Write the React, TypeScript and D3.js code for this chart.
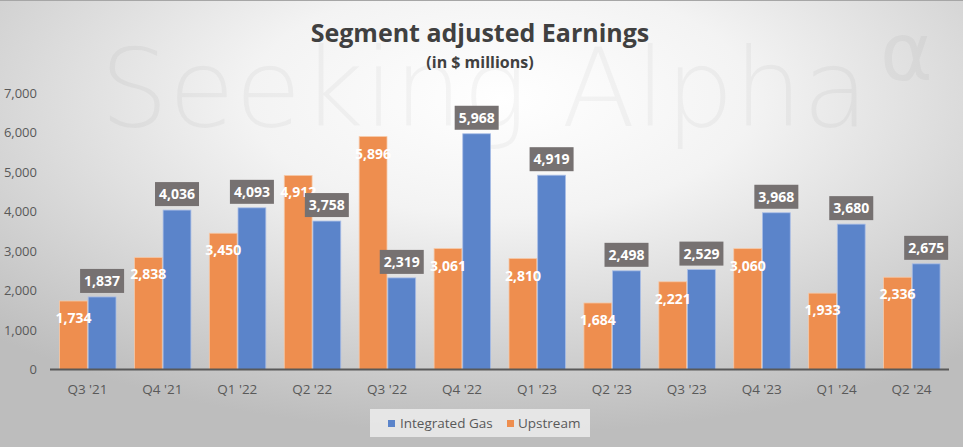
import React from "react";
import * as d3 from "d3";

const categories = ["Q3 '21", "Q4 '21", "Q1 '22", "Q2 '22", "Q3 '22", "Q4 '22", "Q1 '23", "Q2 '23", "Q3 '23", "Q4 '23", "Q1 '24", "Q2 '24"];
const upstream = [1734, 2838, 3450, 4912, 5896, 3061, 2810, 1684, 2221, 3060, 1933, 2336];
const integratedGas = [1837, 4036, 4093, 3758, 2319, 5968, 4919, 2498, 2529, 3968, 3680, 2675];
const yTicks = [0, 1000, 2000, 3000, 4000, 5000, 6000, 7000];
const seriesNames = ["Upstream", "Integrated Gas"];

const W = 963;
const H = 447;
const BLUE = "#5B84CA";
const ORANGE = "#EE8E4F";
const BOX = "#767171";
const TXT = "#595959";
const FONT = "'Open Sans', 'Noto Sans', sans-serif";

export default function App() {
  const x = d3.scaleBand<string>().domain(categories).range([50, 949]).paddingInner(0).paddingOuter(0);
  const inner = d3.scaleBand<string>().domain(seriesNames).range([9.5, 66]).paddingInner(0.03);
  const y = d3.scaleLinear().domain([0, 7000]).range([369.5, 93]);
  const fmt = d3.format(",");

  return (
    <svg width={W} height={H} style={{ position: "absolute", left: 0, top: 0 }} fontFamily={FONT}>
      <defs>
        <radialGradient id="bg" cx="52%" cy="22%" r="75%" fx="52%" fy="22%">
          <stop offset="0%" stopColor="#ffffff" />
          <stop offset="35%" stopColor="#f3f3f3" />
          <stop offset="100%" stopColor="#bdbdbd" />
        </radialGradient>
      </defs>
      <rect x={0} y={0} width={W} height={H} fill="url(#bg)" />
      <line x1={0} x2={W} y1={0.5} y2={0.5} stroke="#a6a6a6" strokeWidth={1} />

      {/* watermark */}
      <text x={100} y={126} fontSize={108} fontFamily="'DejaVu Sans', sans-serif" fontWeight={200} fill="#000" fillOpacity={0.035}>
        Seeking Alpha
      </text>
      <text x={880} y={80} fontSize={80} fontFamily="'DejaVu Sans', sans-serif" fill="#000" fillOpacity={0.035}>
        α
      </text>

      {/* title */}
      <text x={480} y={42} textAnchor="middle" fontSize={25} fontWeight={700} fill="#404040">
        Segment adjusted Earnings
      </text>
      <text x={480} y={68} textAnchor="middle" fontSize={16} fontWeight={700} fill="#404040">
        (in $ millions)
      </text>

      {/* y axis ticks */}
      {yTicks.map((t) => (
        <text key={t} x={37} y={y(t)} dy="0.35em" textAnchor="end" fontSize={13} fill={TXT}>
          {fmt(t)}
        </text>
      ))}

      {/* bars */}
      {categories.map((c, i) => {
        const x0 = x(c)!;
        const ux = x0 + inner("Upstream")!;
        const gx = x0 + inner("Integrated Gas")!;
        const bw = inner.bandwidth();
        return (
          <g key={c}>
            <rect x={ux} y={y(upstream[i])} width={bw} height={y(0) - y(upstream[i])} fill={ORANGE} stroke="#f6c9a8" strokeWidth={0.8} />
            <rect x={gx} y={y(integratedGas[i])} width={bw} height={y(0) - y(integratedGas[i])} fill={BLUE} stroke="#a9bde6" strokeWidth={0.8} />
          </g>
        );
      })}

      {/* axis line */}
      <line x1={50} x2={949} y1={y(0)} y2={y(0)} stroke="#595959" strokeWidth={1.8} />

      {/* category labels */}
      {categories.map((c) => (
        <text key={c} x={x(c)! + x.bandwidth() / 2} y={394} textAnchor="middle" fontSize={13.5} fill={TXT}>
          {c}
        </text>
      ))}

      {/* labels */}
      {categories.map((c, i) => {
        const x0 = x(c)!;
        const bw = inner.bandwidth();
        const ucx = x0 + inner("Upstream")! + bw / 2;
        const gcx = x0 + inner("Integrated Gas")! + bw / 2;
        const gy = y(integratedGas[i]);
        return (
          <g key={c}>
            <text x={ucx} y={y(upstream[i]) + 22} textAnchor="middle" fontSize={14} fontWeight={700} fill="#ffffff">
              {fmt(upstream[i])}
            </text>
            <rect x={gcx - 22} y={gy - 28} width={44} height={24} fill={BOX} />
            <text x={gcx} y={gy - 16} dy="0.35em" textAnchor="middle" fontSize={14} fontWeight={700} fill="#ffffff">
              {fmt(integratedGas[i])}
            </text>
          </g>
        );
      })}

      {/* legend */}
      <rect x={370} y={409} width={220} height={28} fill="#ececec" fillOpacity={0.85} />
      <rect x={388} y={420} width={7} height={7} fill={BLUE} />
      <text x={400} y={423.5} dy="0.35em" fontSize={13.5} fill={TXT}>Integrated Gas</text>
      <rect x={507} y={420} width={7} height={7} fill={ORANGE} />
      <text x={518} y={423.5} dy="0.35em" fontSize={13.5} fill={TXT}>Upstream</text>
    </svg>
  );
}
